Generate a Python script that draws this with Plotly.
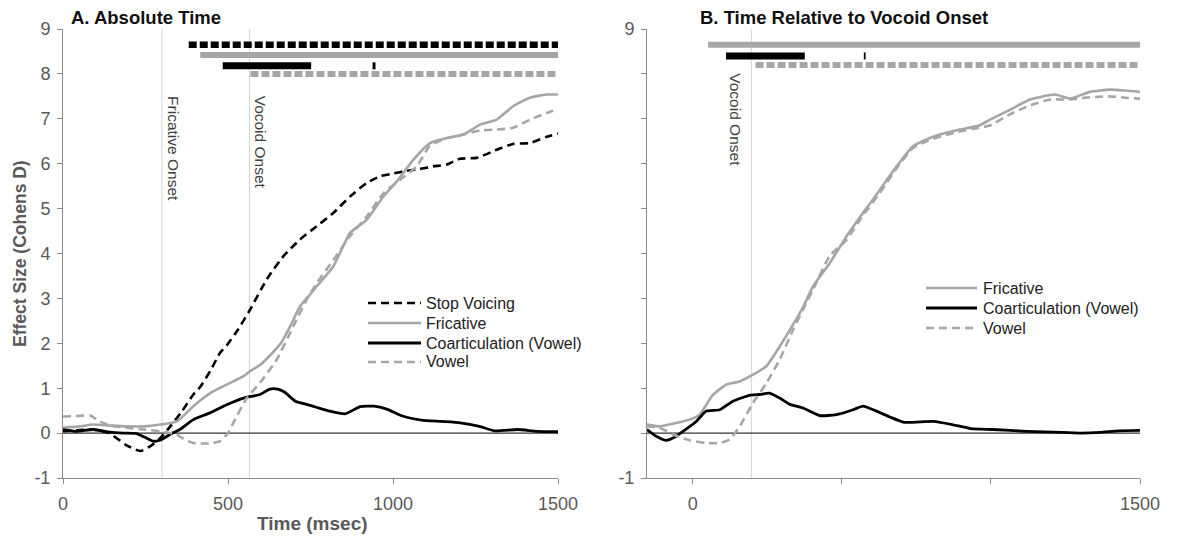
import plotly.graph_objects as go

W, H = 1180, 542

# ---------------- Panel A: Absolute Time ----------------
a_stop_t = [0, 40, 90, 140, 190, 235, 265, 295, 325, 360, 395, 415, 446, 476, 496, 530, 567, 617, 668, 718,
            769, 819, 870, 920, 961, 1000, 1040, 1080, 1122, 1163, 1203, 1254, 1314, 1364, 1415, 1466, 1500]
a_stop_v = [0.04, 0.06, 0.08, 0.0, -0.26, -0.40, -0.29, -0.11, 0.15, 0.48, 0.86, 1.02, 1.38, 1.79, 1.95, 2.3,
            2.75, 3.42, 3.94, 4.31, 4.61, 4.90, 5.27, 5.57, 5.72, 5.78, 5.84, 5.88, 5.94, 5.98, 6.11, 6.13,
            6.31, 6.44, 6.46, 6.60, 6.67]

a_fric_t = [0, 50, 90, 140, 190, 245, 295, 345, 395, 446, 496, 547, 567, 598, 630, 660, 690, 718, 748, 769,
            819, 845, 870, 920, 971, 1011, 1062, 1112, 1163, 1213, 1264, 1314, 1364, 1415, 1466, 1500]
a_fric_v = [0.12, 0.15, 0.19, 0.17, 0.15, 0.15, 0.19, 0.26, 0.60, 0.89, 1.08, 1.27, 1.38, 1.52, 1.75, 2.0,
            2.4, 2.82, 3.08, 3.27, 3.71, 4.1, 4.46, 4.75, 5.27, 5.6, 6.09, 6.46, 6.57, 6.65, 6.87, 6.98,
            7.28, 7.47, 7.54, 7.54]

a_coart_t = [0, 41, 92, 142, 183, 223, 250, 274, 294, 324, 354, 395, 446, 496, 547, 597, 627, 650, 670, 704,
             738, 770, 808, 855, 901, 942, 983, 1029, 1087, 1146, 1204, 1262, 1308, 1378, 1436, 1500]
a_coart_v = [0.08, 0.04, 0.08, 0.02, 0.0, -0.01, -0.10, -0.18, -0.16, -0.03, 0.08, 0.30, 0.45, 0.63, 0.78,
             0.86, 0.98, 0.98, 0.92, 0.71, 0.64, 0.57, 0.49, 0.43, 0.59, 0.60, 0.53, 0.38, 0.29, 0.26, 0.23,
             0.15, 0.05, 0.08, 0.04, 0.03]

a_vowel_t = [0, 40, 82, 112, 142, 193, 243, 294, 344, 370, 395, 446, 476, 500, 516, 557, 597, 648, 698, 738,
             769, 819, 870, 920, 971, 1021, 1072, 1112, 1163, 1213, 1264, 1314, 1364, 1415, 1466, 1500]
a_vowel_v = [0.37, 0.38, 0.39, 0.26, 0.17, 0.12, 0.08, 0.04, -0.03, -0.15, -0.22, -0.23, -0.18, 0.0, 0.23,
             0.78, 1.12, 1.64, 2.38, 2.97, 3.34, 3.85, 4.39, 4.82, 5.34, 5.64, 5.94, 6.4, 6.57, 6.65, 6.74,
             6.76, 6.80, 6.98, 7.13, 7.22]

# significance intervals (ms) for panel A
a_sig_stop = [(381, 1500)]
a_sig_fric = [(416, 1500)]
a_sig_coart = [(484, 752), (938, 947)]
a_sig_vowel = [(568, 1500)]

a_fricative_onset = 300
a_vocoid_onset = 565

# ---------------- Panel B: Time Relative to Vocoid Onset ----------------
b_fric_t = [-153, -111, -66, -10, 23, 68, 113, 158, 202, 247, 292, 337, 370, 404, 460, 516, 571, 628, 684,
            739, 784, 829, 896, 960, 997, 1064, 1131, 1215, 1265, 1332, 1399, 1450, 1500]
b_fric_v = [0.19, 0.15, 0.21, 0.30, 0.41, 0.85, 1.08, 1.15, 1.30, 1.49, 1.93, 2.42, 2.8, 3.27, 3.79, 4.38,
            4.9, 5.42, 5.94, 6.39, 6.54, 6.65, 6.76, 6.85, 6.98, 7.2, 7.43, 7.54, 7.45, 7.6, 7.65, 7.63, 7.6]

b_coart_t = [-153, -122, -88, -55, -32, 12, 46, 91, 135, 191, 225, 258, 292, 326, 370, 426, 482, 538, 571,
             616, 661, 709, 808, 870, 932, 1007, 1118, 1242, 1304, 1366, 1428, 1500]
b_coart_v = [0.08, -0.07, -0.16, -0.07, 0.04, 0.26, 0.49, 0.52, 0.71, 0.84, 0.86, 0.89, 0.78, 0.64, 0.56,
             0.39, 0.41, 0.52, 0.60, 0.49, 0.36, 0.24, 0.26, 0.19, 0.10, 0.08, 0.04, 0.015, 0.0, 0.015,
             0.05, 0.06]

b_vowel_t = [-153, -111, -66, -10, 46, 91, 124, 158, 202, 247, 292, 337, 370, 404, 460, 516, 571, 628, 684,
             739, 784, 829, 896, 960, 997, 1064, 1131, 1200, 1265, 1332, 1399, 1450, 1500]
b_vowel_v = [0.15, 0.12, -0.03, -0.16, -0.22, -0.22, -0.14, 0.15, 0.67, 1.11, 1.64, 2.31, 2.75, 3.2, 3.95,
             4.3, 4.85, 5.35, 5.9, 6.35, 6.5, 6.6, 6.72, 6.8, 6.85, 7.1, 7.3, 7.43, 7.43, 7.48, 7.5, 7.47,
             7.45]

b_sig_fric = [(52, 1500)]
b_sig_coart = [(112, 376), (574, 580)]
b_sig_vowel = [(211, 1500)]

b_vocoid_onset = 197

y_ticks = [-1, 0, 1, 2, 3, 4, 5, 6, 7, 8, 9]
y_ticktext_a = ["-1", "0", "1", "2", "3", "4", "5", "6", "7", "8", "9"]
y_ticktext_b = ["-1", "", "", "", "", "", "", "", "", "", "9"]
x_ticks = [0, 500, 1000, 1500]
x_ticktext_a = ["0", "500", "1000", "1500"]
x_ticktext_b = ["0", "", "", "1500"]

names_a = ["Stop Voicing", "Fricative", "Coarticulation (Vowel)", "Vowel"]
names_b = ["Fricative", "Coarticulation (Vowel)", "Vowel"]

# ---------------- styles ----------------
BLACK = "#000000"
GREY = "#a6a6a6"
FONT = "Liberation Sans, Arial, sans-serif"
CDASH = "8px,5px"
BDASH = "8px,3px"
STYLE = {
    "Stop Voicing": (BLACK, CDASH, 2.6),
    "Fricative": (GREY, "solid", 2.6),
    "Coarticulation (Vowel)": (BLACK, "solid", 2.8),
    "Vowel": (GREY, CDASH, 2.6),
}

fig = go.Figure()


def curve(t, v, name, xa, ya):
    color, dash, width = STYLE[name]
    fig.add_trace(go.Scatter(x=t, y=v, mode="lines", name=name,
                             line=dict(color=color, width=width, dash=dash, shape="spline", smoothing=0.5),
                             xaxis=xa, yaxis=ya, showlegend=False, hoverinfo="skip"))


def sigbars(intervals, level, color, dash, width, xa, ya):
    for s, e in intervals:
        fig.add_trace(go.Scatter(x=[s, e], y=[level, level], mode="lines",
                                 line=dict(color=color, width=width, dash=dash),
                                 xaxis=xa, yaxis=ya, showlegend=False, hoverinfo="skip"))


# Panel A
curve(a_stop_t, a_stop_v, "Stop Voicing", "x", "y")
curve(a_fric_t, a_fric_v, "Fricative", "x", "y")
curve(a_coart_t, a_coart_v, "Coarticulation (Vowel)", "x", "y")
curve(a_vowel_t, a_vowel_v, "Vowel", "x", "y")
sigbars(a_sig_stop, 8.65, BLACK, BDASH, 6.5, "x", "y")
sigbars(a_sig_fric, 8.42, GREY, "solid", 6, "x", "y")
sigbars(a_sig_vowel, 8.0, GREY, BDASH, 6, "x", "y")
sigbars(a_sig_coart, 8.18, BLACK, "solid", 7, "x", "y")

# Panel B
curve(b_fric_t, b_fric_v, "Fricative", "x2", "y2")
curve(b_coart_t, b_coart_v, "Coarticulation (Vowel)", "x2", "y2")
curve(b_vowel_t, b_vowel_v, "Vowel", "x2", "y2")
sigbars(b_sig_fric, 8.65, GREY, "solid", 6, "x2", "y2")
sigbars(b_sig_vowel, 8.2, GREY, BDASH, 6, "x2", "y2")
sigbars(b_sig_coart, 8.4, BLACK, "solid", 7, "x2", "y2")

# onset lines
shapes = []
for xv, xr, yr in [(a_fricative_onset, "x", "y"), (a_vocoid_onset, "x", "y"), (b_vocoid_onset, "x2", "y2")]:
    shapes.append(dict(type="line", xref=xr, yref=yr, x0=xv, x1=xv, y0=-1, y1=9,
                       line=dict(color="#d4d4d4", width=1), layer="below"))
# zero lines
shapes.append(dict(type="line", xref="x", yref="y", x0=0, x1=1500, y0=0, y1=0,
                   line=dict(color="#000000", width=1), layer="below"))
shapes.append(dict(type="line", xref="x2", yref="y2", x0=-153, x1=1500, y0=0, y1=0,
                   line=dict(color="#000000", width=1), layer="below"))

ann = []
onset_font = dict(family=FONT, size=15.5, color="#404040")
ann.append(dict(text="Fricative Onset", x=a_fricative_onset, y=7.55, xref="x", yref="y",
                xanchor="left", yanchor="top", textangle=90, showarrow=False, xshift=1, font=onset_font))
ann.append(dict(text="Vocoid Onset", x=a_vocoid_onset, y=7.55, xref="x", yref="y",
                xanchor="left", yanchor="top", textangle=90, showarrow=False, xshift=0, font=onset_font))
ann.append(dict(text="Vocoid Onset", x=b_vocoid_onset, y=8.05, xref="x2", yref="y2",
                xanchor="right", yanchor="top", textangle=90, showarrow=False, xshift=-5, font=onset_font))

# manual legends (Excel-style compact spacing)
leg_font = dict(family=FONT, size=16, color="#222222")


def legend(names, x0, x1, xt, rows):
    for nm, yr in zip(names, rows):
        color, dash, width = STYLE[nm]
        shapes.append(dict(type="line", xref="paper", yref="paper", x0=x0 / W, x1=x1 / W,
                           y0=1 - yr / H, y1=1 - yr / H, line=dict(color=color, width=width, dash=dash)))
        ann.append(dict(text=nm, x=xt / W, y=1 - yr / H, xref="paper", yref="paper", xanchor="left",
                        yanchor="middle", showarrow=False, font=leg_font))


legend(names_a, 368, 421, 424, [303, 323, 343, 362])
legend(names_b, 926, 977, 981, [288, 308, 328])

ann.append(dict(text="<b>A. Absolute Time</b>", x=69 / W, y=1 - 17 / H, xref="paper", yref="paper",
                xanchor="left", yanchor="middle", showarrow=False,
                font=dict(family=FONT, size=18.5, color="#111111")))
ann.append(dict(text="<b>B. Time Relative to Vocoid Onset</b>", x=698 / W, y=1 - 17 / H, xref="paper",
                yref="paper", xanchor="left", yanchor="middle", showarrow=False,
                font=dict(family=FONT, size=18.5, color="#111111")))
ann.append(dict(text="<b>Effect Size (Cohens D)</b>", x=20 / W, y=1 - 254 / H, xref="paper", yref="paper",
                xanchor="center", yanchor="middle", textangle=-90, showarrow=False,
                font=dict(family=FONT, size=17.5, color="#595959")))
ann.append(dict(text="<b>Time (msec)</b>", x=312 / W, y=1 - 523 / H, xref="paper", yref="paper",
                xanchor="center", yanchor="middle", showarrow=False,
                font=dict(family=FONT, size=19, color="#595959")))

tickfont = dict(family=FONT, size=18, color="#595959")
axis_common = dict(showline=True, linecolor="#8a8a8a", linewidth=1, ticks="outside", ticklen=5,
                   tickcolor="#8a8a8a", showgrid=False, zeroline=False, tickfont=tickfont,
                   automargin=False, fixedrange=True)

fig.update_layout(
    width=W, height=H,
    margin=dict(l=0, r=0, t=0, b=0),
    paper_bgcolor="white", plot_bgcolor="white",
    font=dict(family=FONT),
    xaxis=dict(domain=[63 / W, 558 / W], range=[0, 1500], anchor="y", ticklabelstandoff=4,
               tickmode="array", tickvals=x_ticks, ticktext=x_ticktext_a, **axis_common),
    yaxis=dict(domain=[1 - 478 / H, 1 - 29 / H], range=[-1, 9], anchor="x", ticklabelstandoff=3,
               tickmode="array", tickvals=y_ticks, ticktext=y_ticktext_a, **axis_common),
    xaxis2=dict(domain=[647 / W, 1140 / W], range=[-153, 1500], anchor="y2", ticklabelstandoff=4,
                tickmode="array", tickvals=x_ticks, ticktext=x_ticktext_b, **axis_common),
    yaxis2=dict(domain=[1 - 478 / H, 1 - 29 / H], range=[-1, 9], anchor="x2", ticklabelstandoff=3,
                tickmode="array", tickvals=y_ticks, ticktext=y_ticktext_b, **axis_common),
    shapes=shapes,
    annotations=ann,
    showlegend=False,
)

fig.write_html("out.html", config={"displayModeBar": False},
               post_script="document.body.style.margin='0';document.body.style.overflow='hidden';")
